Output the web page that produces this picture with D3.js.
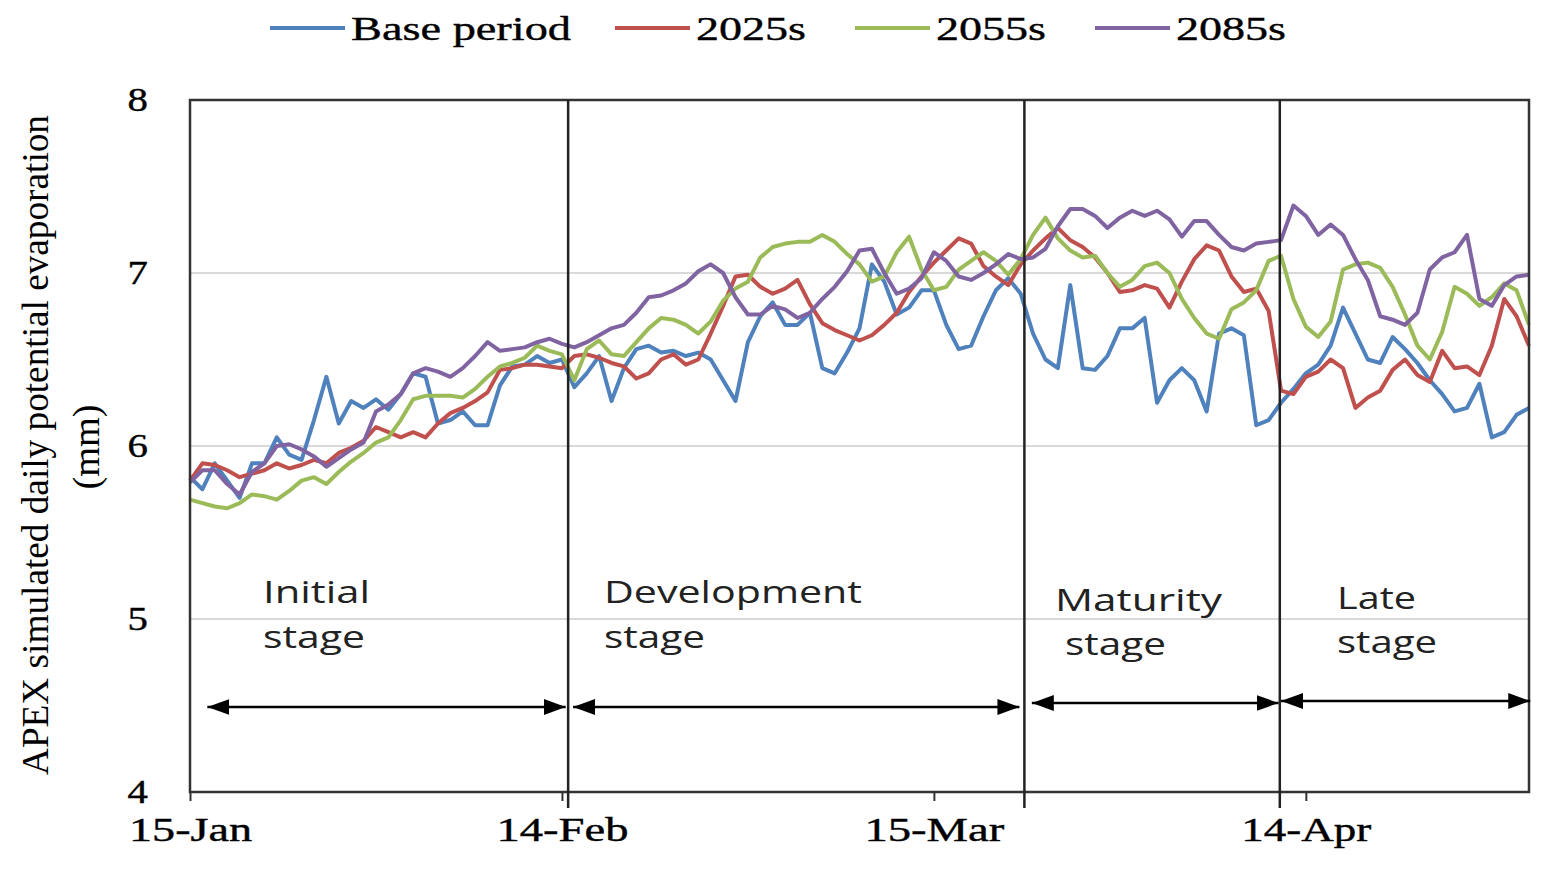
<!DOCTYPE html>
<html>
<head>
<meta charset="utf-8">
<script src="https://cdn.jsdelivr.net/npm/d3@7/dist/d3.min.js"></script>
<style>
  body { margin: 0; background: #fff; }
  svg { display: block; }
</style>
</head>
<body>
<svg id="chart" width="1548" height="869"></svg>
<script>
// daily values, 15-Jan (day 0) to 3-May (day 108)
const basePeriod = [5.82,5.75,5.90,5.80,5.70,5.90,5.90,6.05,5.95,5.92,6.15,6.40,6.13,6.26,6.22,6.27,6.21,6.30,6.42,6.40,
  6.13,6.15,6.20,6.12,6.12,6.35,6.46,6.47,6.52,6.48,6.50,6.34,6.42,6.52,6.26,6.45,6.56,6.58,6.54,6.55,
  6.52,6.54,6.50,6.38,6.26,6.60,6.75,6.83,6.70,6.70,6.77,6.45,6.42,6.54,6.68,7.05,6.95,6.76,6.80,6.90,
  6.90,6.70,6.56,6.58,6.75,6.90,6.97,6.88,6.65,6.50,6.45,6.93,6.45,6.44,6.52,6.68,6.68,6.74,6.25,6.38,
  6.45,6.38,6.20,6.65,6.68,6.64,6.12,6.15,6.25,6.33,6.42,6.47,6.58,6.80,6.65,6.50,6.48,6.63,6.56,6.48,
  6.38,6.30,6.20,6.22,6.36,6.05,6.08,6.18,6.22];
const s2025 = [5.80,5.90,5.89,5.86,5.82,5.84,5.86,5.90,5.87,5.89,5.92,5.90,5.96,5.99,6.03,6.11,6.08,6.05,6.08,6.05,
  6.13,6.19,6.22,6.26,6.31,6.44,6.45,6.47,6.47,6.46,6.45,6.52,6.53,6.51,6.48,6.46,6.39,6.42,6.50,6.53,
  6.47,6.50,6.65,6.81,6.98,6.99,6.92,6.88,6.91,6.96,6.82,6.71,6.67,6.64,6.61,6.64,6.70,6.77,6.89,6.98,
  7.06,7.13,7.20,7.17,7.04,6.98,6.93,7.05,7.13,7.20,7.26,7.19,7.15,7.09,7.00,6.89,6.90,6.93,6.91,6.80,
  6.95,7.08,7.16,7.13,6.98,6.89,6.91,6.78,6.32,6.30,6.40,6.43,6.50,6.45,6.22,6.28,6.32,6.44,6.50,6.41,
  6.37,6.55,6.45,6.46,6.41,6.58,6.85,6.75,6.58];
const s2055 = [5.69,5.67,5.65,5.64,5.67,5.72,5.71,5.69,5.74,5.80,5.82,5.78,5.85,5.91,5.96,6.02,6.05,6.15,6.27,6.29,
  6.29,6.29,6.28,6.33,6.40,6.46,6.48,6.51,6.58,6.55,6.53,6.38,6.56,6.61,6.53,6.52,6.60,6.68,6.74,6.73,
  6.70,6.65,6.72,6.84,6.91,6.95,7.09,7.15,7.17,7.18,7.18,7.22,7.18,7.11,7.05,6.95,6.98,7.12,7.21,7.02,
  6.90,6.92,7.02,7.07,7.12,7.07,6.99,7.08,7.22,7.32,7.20,7.13,7.09,7.10,7.00,6.92,6.96,7.04,7.06,7.00,
  6.85,6.74,6.65,6.62,6.79,6.83,6.90,7.07,7.10,6.85,6.69,6.63,6.72,7.02,7.05,7.06,7.03,6.92,6.76,6.58,
  6.50,6.66,6.92,6.88,6.81,6.86,6.94,6.90,6.70];
const s2085 = [5.79,5.86,5.86,5.78,5.72,5.85,5.90,6.00,6.01,5.98,5.94,5.88,5.93,5.98,6.02,6.20,6.24,6.30,6.42,6.45,
  6.43,6.40,6.45,6.52,6.60,6.55,6.56,6.57,6.60,6.62,6.59,6.57,6.60,6.64,6.68,6.70,6.77,6.86,6.87,6.90,
  6.94,7.01,7.05,7.00,6.86,6.76,6.76,6.81,6.79,6.74,6.77,6.85,6.92,7.01,7.13,7.14,7.00,6.88,6.91,6.97,
  7.12,7.07,6.98,6.96,7.00,7.05,7.11,7.08,7.09,7.14,7.27,7.37,7.37,7.33,7.26,7.32,7.36,7.33,7.36,7.31,
  7.21,7.30,7.30,7.22,7.15,7.13,7.17,7.18,7.19,7.39,7.33,7.22,7.28,7.22,7.08,6.96,6.75,6.73,6.70,6.77,
  7.02,7.09,7.12,7.22,6.85,6.81,6.93,6.98,6.99];

const seriesNames = ["Base period", "2025s", "2055s", "2085s"];
const seriesColors = ["#4f81bd", "#c0504d", "#9bbb59", "#8064a2"];
const tickDays = [0, 30, 60, 90];
const tickLabels = ["15-Jan", "14-Feb", "15-Mar", "14-Apr"];
const yTicks = [4, 5, 6, 7, 8];
// growth stage boundaries (day index) and names
const stageBounds = [0, 30.5, 67.3, 87.9, 108];
const stageNames = [["Initial", "stage"], ["Development", "stage"], ["Maturity", " stage"], ["Late", "stage"]];

const allSeries = [basePeriod, s2025, s2055, s2085];

const svg = d3.select("#chart");
const serif = "'Liberation Serif','Times New Roman',serif";
const sans = "'Open Sans','Liberation Sans',sans-serif";

const x = d3.scaleLinear().domain([0, 108]).range([190, 1529]);
const y = d3.scaleLinear().domain([4, 8]).range([792, 100]);

// gridlines
svg.append("g")
  .selectAll("line")
  .data(yTicks.filter(t => t > 4 && t < 8))
  .join("line")
  .attr("x1", x(0)).attr("x2", x(108))
  .attr("y1", d => y(d)).attr("y2", d => y(d))
  .attr("stroke", "#d9d9d9").attr("stroke-width", 2);

// lines
const line = d3.line().x((d, i) => x(i)).y(d => y(d));
svg.append("g")
  .selectAll("path")
  .data(allSeries)
  .join("path")
  .attr("d", d => line(d))
  .attr("fill", "none")
  .attr("stroke", (d, i) => seriesColors[i])
  .attr("stroke-width", 4)
  .attr("stroke-linejoin", "round");

// plot frame
svg.append("rect")
  .attr("x", x(0)).attr("y", y(8))
  .attr("width", x(108) - x(0)).attr("height", y(4) - y(8))
  .attr("fill", "none").attr("stroke", "#333").attr("stroke-width", 2.5);

// y axis
const yAxis = svg.append("g")
  .attr("transform", `translate(${x(0)},0)`)
  .call(d3.axisLeft(y).tickValues(yTicks).tickSize(0).tickPadding(42).tickFormat(d3.format("d")));
yAxis.select(".domain").remove();
yAxis.selectAll("text")
  .attr("font-family", serif).attr("font-size", 34).attr("fill", "#000")
  .attr("stroke", "#000").attr("stroke-width", 0.4)
  .attr("transform", "scale(1.2,1)")
  .attr("x", -42 / 1.2);

// x axis
const xAxis = svg.append("g")
  .attr("transform", `translate(0,${y(4)})`)
  .call(d3.axisBottom(x).tickValues(tickDays).tickSize(9).tickPadding(16)
    .tickFormat((d, i) => tickLabels[i]));
xAxis.select(".domain").remove();
xAxis.selectAll("line").attr("stroke", "#333").attr("stroke-width", 2);
const xLabelWidths = [123, 132, 140, 130];
xAxis.selectAll("text")
  .attr("font-family", serif).attr("font-size", 34).attr("fill", "#000")
  .attr("stroke", "#000").attr("stroke-width", 0.4)
  .attr("textLength", (d, i) => xLabelWidths[i])
  .attr("lengthAdjust", "spacingAndGlyphs");

// stage boundary lines
svg.append("g")
  .selectAll("line")
  .data(stageBounds.slice(1, -1))
  .join("line")
  .attr("x1", d => x(d)).attr("x2", d => x(d))
  .attr("y1", y(8)).attr("y2", y(4) + 16)
  .attr("stroke", "#222").attr("stroke-width", 2.5);

// arrow markers
const defs = svg.append("defs");
defs.append("marker")
  .attr("id", "ah").attr("markerUnits", "userSpaceOnUse")
  .attr("viewBox", "0 0 22 16").attr("refX", 22).attr("refY", 8)
  .attr("markerWidth", 22).attr("markerHeight", 16)
  .attr("orient", "auto-start-reverse")
  .append("path").attr("d", "M0,0 L22,8 L0,16 Z").attr("fill", "#000");

const arrowY = [707, 707, 703, 701];
const arrowPad = [[1.4, 0.2], [0.4, 0.4], [0.6, 0.1], [0.1, -0.1]];
svg.append("g")
  .selectAll("line")
  .data(d3.range(4))
  .join("line")
  .attr("x1", i => x(stageBounds[i] + arrowPad[i][0]))
  .attr("x2", i => x(stageBounds[i + 1] - arrowPad[i][1]))
  .attr("y1", i => arrowY[i]).attr("y2", i => arrowY[i])
  .attr("stroke", "#000").attr("stroke-width", 2.5)
  .attr("marker-start", "url(#ah)").attr("marker-end", "url(#ah)");

// stage labels
const stageLabelPos = [
  { x: 263, y1: 603, x2: 263, y2: 648, w1: 107, w2: 102 },
  { x: 604, y1: 603, x2: 604, y2: 648, w1: 258, w2: 101 },
  { x: 1055, y1: 611, x2: 1065, y2: 655, w1: 167, w2: 101 },
  { x: 1337, y1: 609, x2: 1337, y2: 653, w1: 79, w2: 100 }
];
stageNames.forEach((lines, i) => {
  const p = stageLabelPos[i];
  const g = svg.append("g").attr("font-family", sans).attr("font-size", 31).attr("fill", "#222");
  g.append("text").attr("x", p.x).attr("y", p.y1).text(lines[0])
    .attr("textLength", p.w1).attr("lengthAdjust", "spacingAndGlyphs");
  g.append("text").attr("x", p.x2).attr("y", p.y2).text(lines[1].trim())
    .attr("textLength", p.w2).attr("lengthAdjust", "spacingAndGlyphs");
});

// y axis title
const yTitle = svg.append("g").attr("font-family", serif).attr("font-size", 31).attr("fill", "#000");
yTitle.append("text")
  .attr("transform", "translate(48,445) rotate(-90) scale(1,1.25)")
  .attr("text-anchor", "middle")
  .attr("textLength", 660).attr("lengthAdjust", "spacingAndGlyphs")
  .text("APEX simulated daily potential evaporation");
yTitle.append("text")
  .attr("transform", "translate(99,447) rotate(-90) scale(1,1.25)")
  .attr("text-anchor", "middle")
  .attr("textLength", 85).attr("lengthAdjust", "spacingAndGlyphs")
  .text("(mm)");

// legend
const legendX = [270, 615, 855, 1095];
const legendTextW = [220, 110, 110, 110];
const legend = svg.append("g")
  .selectAll("g")
  .data(seriesNames)
  .join("g")
  .attr("transform", (d, i) => `translate(${legendX[i]},28)`);
legend.append("line")
  .attr("x1", 0).attr("x2", 75).attr("y1", 0).attr("y2", 0)
  .attr("stroke", (d, i) => seriesColors[i]).attr("stroke-width", 4);
legend.append("text")
  .attr("x", 81).attr("y", 12)
  .attr("font-family", serif).attr("font-size", 34).attr("fill", "#000")
  .attr("stroke", "#000").attr("stroke-width", 0.4)
  .attr("textLength", (d, i) => legendTextW[i]).attr("lengthAdjust", "spacingAndGlyphs")
  .text(d => d);
</script>
</body>
</html>
